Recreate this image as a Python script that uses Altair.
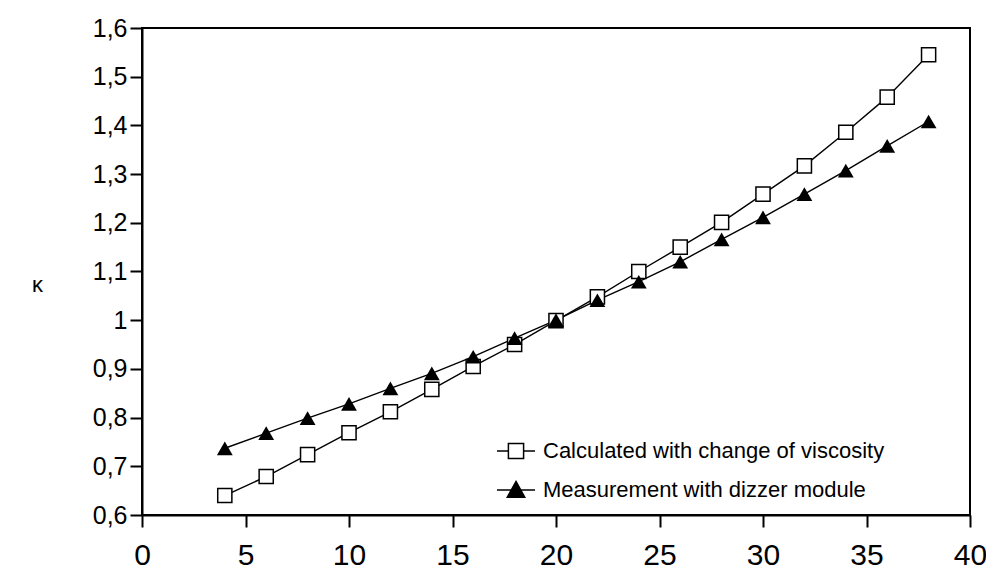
import altair as alt
import pandas as pd

# ---- data ----
x_vals = [4, 6, 8, 10, 12, 14, 16, 18, 20, 22, 24, 26, 28, 30, 32, 34, 36, 38]
calculated = [0.640, 0.679, 0.724, 0.769, 0.812, 0.858, 0.905, 0.950, 0.999, 1.048,
              1.100, 1.150, 1.201, 1.259, 1.317, 1.386, 1.458, 1.545]
measured = [0.737, 0.768, 0.799, 0.828, 0.860, 0.891, 0.925, 0.963, 1.000, 1.041,
            1.079, 1.120, 1.166, 1.211, 1.259, 1.307, 1.358, 1.408]
series_names = ["Calculated with change of viscosity", "Measurement with dizzer module"]
y_ticks = [0.6, 0.7, 0.8, 0.9, 1.0, 1.1, 1.2, 1.3, 1.4, 1.5, 1.6]
x_ticks = [0, 5, 10, 15, 20, 25, 30, 35, 40]

rows = []
for xv, c, m in zip(x_vals, calculated, measured):
    rows.append({"x": xv, "k": c, "series": series_names[0]})
    rows.append({"x": xv, "k": m, "series": series_names[1]})
df = pd.DataFrame(rows)

FONT = "Liberation Sans"

x_enc = alt.X("x:Q", scale=alt.Scale(domain=[0, 40], nice=False),
              axis=alt.Axis(values=x_ticks, title=None, labelFontSize=30, labelFlush=False,
                            tickSize=12, labelPadding=13, labelFont=FONT))
y_enc = alt.Y("k:Q", scale=alt.Scale(domain=[0.6, 1.6], nice=False, zero=False),
              axis=alt.Axis(values=y_ticks, title="κ", titleAngle=0, titleX=-105, titleY=256,
                            titleFontSize=22, titleFontWeight="normal", titleBaseline="middle",
                            titleAlign="center", titleFont=FONT,
                            labelFontSize=25, tickSize=12, labelPadding=3, labelFont=FONT,
                            labelExpr="replace(format(datum.value, '.1~f'), '.', ',')"))

base = alt.Chart(df)

lines = base.mark_line(color="black", strokeWidth=1.4).encode(x=x_enc, y=y_enc, detail="series:N")

squares = base.transform_filter(alt.datum.series == series_names[0]).mark_point(
    shape="square", size=200, filled=True, fill="white", stroke="black", strokeWidth=1.5, opacity=1
).encode(x=x_enc, y=y_enc)

triangles = base.transform_filter(alt.datum.series == series_names[1]).mark_point(
    shape="triangle-up", size=250, filled=True, color="black", opacity=1
).encode(x=x_enc, y=y_enc)

sq_path = "M-1,0H-0.4M-0.4,-0.4H0.4V0.4H-0.4ZM0.4,0H1"
tri_path = "M-1,0H1M0,-0.45L0.46,0.38H-0.46Z"

leg = alt.Legend(title=None, orient="none", legendX=354, legendY=403, labelFontSize=22,
                 labelFont=FONT, labelColor="black", symbolSize=1444, symbolStrokeWidth=1.5,
                 symbolOpacity=1, labelOffset=7, rowPadding=8, padding=0,
                 labelLimit=600)

# legend-only layer: no rows survive the filter, the scale domains carry the entries
legend_layer = base.transform_filter("false").mark_point(filled=True).encode(
    x=x_enc, y=y_enc,
    shape=alt.Shape("series:N", scale=alt.Scale(domain=series_names, range=[sq_path, tri_path]), legend=leg),
    fill=alt.Fill("series:N", scale=alt.Scale(domain=series_names, range=["white", "black"]), legend=leg),
    stroke=alt.Stroke("series:N", scale=alt.Scale(domain=series_names, range=["black", "black"]), legend=leg),
)

chart = alt.layer(lines, squares, triangles, legend_layer).properties(
    width=828, height=487,
    autosize=alt.AutoSizeParams(type="none"),
    padding={"left": 134, "top": 20, "right": 16, "bottom": 56},
    background="white",
).configure_view(stroke="black", strokeWidth=2).configure_axis(
    domainColor="black", domainWidth=2, tickColor="black", tickWidth=2, grid=False,
    labelColor="black", titleColor="black"
)

chart.save("out.html", embed_options={"renderer": "svg", "actions": False})
